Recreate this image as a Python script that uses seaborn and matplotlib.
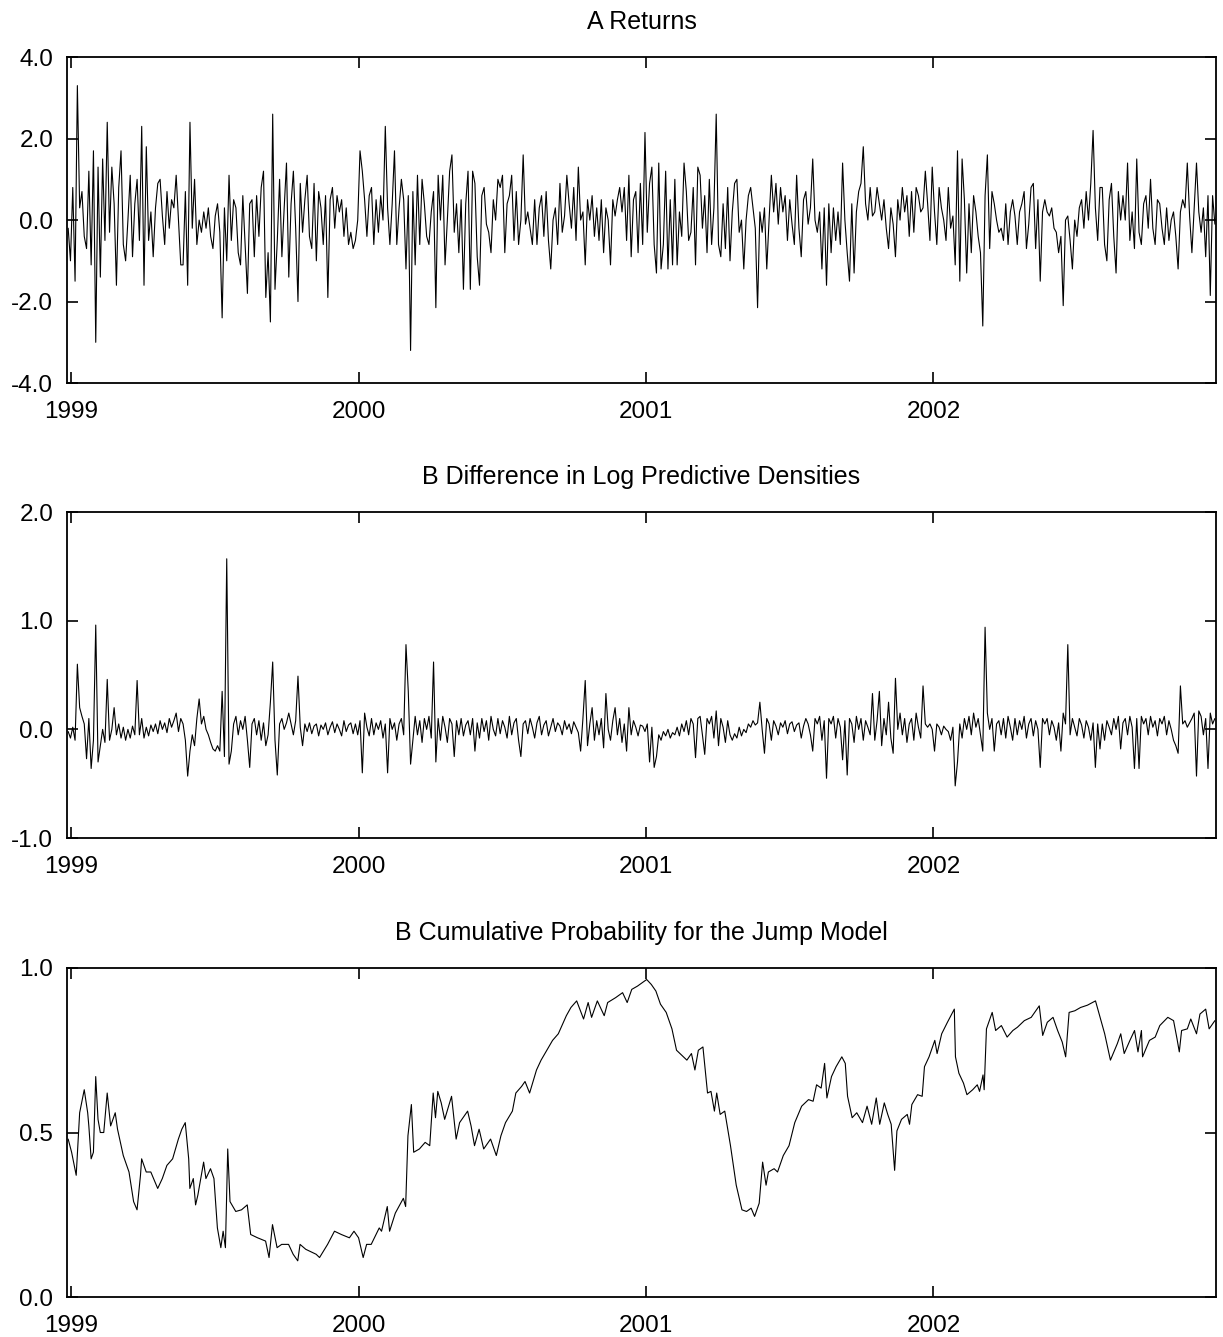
import numpy as np
import matplotlib
matplotlib.use("Agg")
import matplotlib.pyplot as plt
from matplotlib.ticker import FormatStrFormatter
import seaborn as sns

# Panel A: daily returns (roughly every 2nd trading day)
a_returns = [
    -0.2, -1.0, 0.8, -1.5, 3.3, 0.3, 0.7, -0.4, -0.7, 1.2, -1.1, 1.7, -3.0, 1.3, -1.4, 1.5, -0.5, 2.4, -0.3, 1.3, 0.4, -1.6, 0.8, 1.7, -0.6,
    -1.0, 0.0, 1.1, -0.9, 0.4, 1.0, -0.5, 2.3, -1.6, 1.8, -0.5, 0.2, -0.9, 0.3, 0.9, 1.0, 0.1, -0.6, 0.7, -0.2, 0.5, 0.3, 1.1, 0.0, -1.1,
    -1.1, 0.7, -1.6, 2.4, -0.2, 1.0, -0.6, 0.0, -0.3, 0.2, -0.2, 0.3, -0.4, -0.7, 0.1, 0.4, -0.3, -2.4, 0.3, -1.0, 1.1, -0.5, 0.5, 0.3, -0.8,
    -1.1, 0.6, -0.6, -1.8, 0.4, 0.5, -0.9, 0.6, -0.4, 0.8, 1.2, -1.9, -0.8, -2.5, 2.6, -1.7, -0.5, 1.0, -0.9, 0.3, 1.4, -1.4, 0.4, 1.2, -0.2,
    -2.0, 0.9, -0.3, 0.5, 1.1, -0.4, -0.7, 0.9, -1.0, 0.7, 0.3, -0.6, 0.6, -1.9, 0.5, 0.8, -0.2, 0.6, 0.2, 0.5, -0.4, 0.3, -0.6, -0.3, -0.7,
    -0.5, 0.0, 1.7, 1.2, 0.5, -0.4, 0.6, 0.8, -0.6, 0.5, -0.3, 0.6, 0.0, 2.3, 0.3, -0.6, 0.4, 1.7, -0.6, 0.3, 1.0, 0.5, -1.2, 0.6, -3.2,
    0.7, -1.1, 1.1, -0.6, 1.0, 0.4, -0.4, -0.6, 0.2, 0.7, -2.15, 1.1, 0.0, 1.1, -1.1, 0.0, 1.2, 1.6, -0.3, 0.4, -0.8, 0.5, -1.7, 0.4, 1.2,
    -1.7, 1.2, 0.9, -0.9, -1.6, 0.6, 0.8, -0.1, -0.3, -0.8, 0.5, 0.0, 1.0, 0.8, 1.1, -0.8, 0.4, 0.6, 1.1, -0.5, 0.7, -0.6, 0.0, 1.6, -0.1,
    0.2, -0.2, -0.6, 0.5, -0.6, 0.3, 0.6, -0.4, 0.7, -0.5, -1.2, 0.0, 0.3, -0.6, 0.9, -0.3, 0.1, 1.1, 0.4, -0.2, 0.8, -0.5, 1.3, 0.0, 0.2,
    -1.1, 0.5, 0.0, 0.6, -0.4, 0.3, -0.5, 0.5, -0.8, 0.3, 0.0, -1.1, 0.5, 0.1, 0.5, 0.8, 0.2, 0.8, -0.5, 1.1, -0.9, 0.5, 0.7, -0.8, 0.9,
    -0.6, 2.15, -0.3, 0.9, 1.3, -0.6, -1.3, 1.4, -1.2, -0.6, 1.2, -1.2, 0.5, -1.1, 1.0, -1.1, 0.2, -0.4, 1.4, 0.7, -0.5, -0.3, 0.8, -1.1, 1.3,
    1.1, -0.2, 0.6, -0.8, 1.0, -0.6, 0.3, 2.6, -0.6, -0.9, 0.4, -0.7, 0.8, -1.0, 0.2, 0.9, 1.0, -0.3, 0.0, -1.2, 0.0, 0.6, 0.8, 0.3, -0.2,
    -2.15, 0.2, -0.3, 0.3, -1.2, 0.0, 1.1, 0.2, 0.9, -0.1, 0.8, 0.2, 0.6, -0.5, 0.5, -0.1, -0.6, 1.1, -0.2, -0.9, 0.5, 0.7, -0.1, 0.3, 1.5,
    0.0, -0.3, 0.2, -1.2, 0.3, -1.6, 0.4, -0.8, 0.3, -0.5, 0.2, -0.6, 1.4, 0.0, -0.8, -1.5, 0.4, -1.3, 0.2, 0.7, 0.9, 1.8, 0.4, 0.0, 0.8,
    0.1, 0.2, 0.8, 0.4, 0.0, 0.5, -0.2, -0.7, 0.3, -0.1, -0.9, 0.5, 0.0, 0.8, 0.2, 0.6, -0.4, 0.7, -0.3, 0.8, 0.6, 0.2, 0.3, 1.2, 0.4,
    -0.5, 1.3, 0.2, -0.6, 0.8, 0.3, 0.0, -0.5, 0.8, -0.2, 0.1, -1.1, 1.7, -1.5, 1.5, 0.5, -1.3, 0.4, -0.8, 0.6, 0.2, -0.4, -0.8, -2.6, 0.6,
    1.6, -0.7, 0.7, 0.4, 0.0, -0.3, -0.2, -0.5, 0.4, -0.6, 0.2, 0.5, 0.1, -0.6, 0.2, 0.4, 0.7, -0.7, -0.1, 0.8, 0.9, -0.7, 0.5, -1.5, 0.2,
    0.5, 0.2, 0.1, 0.3, -0.2, -0.3, -0.8, -0.4, -2.1, 0.0, 0.1, -0.5, -1.2, 0.0, -0.4, 0.3, 0.5, -0.2, 0.7, 0.0, 0.9, 2.2, 0.3, -0.5, 0.8,
    0.8, -0.6, -1.0, 0.5, 0.9, -0.4, -1.3, 0.7, 0.0, 0.6, 0.0, 1.4, -0.5, 0.2, -0.7, 1.5, -0.3, -0.6, 0.4, 0.6, -0.2, 1.0, -0.2, -0.6, 0.5,
    0.4, -0.2, -0.6, 0.3, -0.5, 0.0, 0.2, -0.4, -1.2, 0.2, 0.5, 0.3, 1.4, 0.1, -0.8, 0.3, 1.4, 0.2, -0.3, 0.3, -0.9, 0.6, -1.85, 0.6, -0.1,
]

# Panel B: difference in log predictive densities
b_logdens = [
    -0.02, -0.08, 0.02, -0.1, 0.6, 0.2, 0.12, 0.05, -0.27, 0.1, -0.36, -0.1, 0.96, -0.3, -0.15, 0.0, -0.12, 0.46, -0.1, 0.0, 0.2, -0.05, 0.05, -0.08, 0.02,
    -0.1, 0.0, -0.08, 0.03, -0.05, 0.45, -0.05, 0.1, -0.08, 0.02, -0.06, 0.04, -0.02, 0.05, -0.04, 0.08, 0.0, 0.06, -0.03, 0.1, 0.02, 0.08, 0.15, -0.02, 0.1,
    0.05, -0.1, -0.43, -0.2, -0.05, -0.15, 0.1, 0.28, 0.05, 0.12, 0.0, -0.05, -0.12, -0.18, -0.2, -0.15, -0.2, 0.35, -0.25, 1.57, -0.32, -0.2, 0.05, 0.12, -0.05,
    0.08, 0.0, 0.12, -0.1, -0.35, 0.05, 0.1, -0.05, 0.08, -0.1, 0.06, -0.15, -0.05, 0.25, 0.62, -0.1, -0.42, 0.05, 0.1, 0.0, 0.06, 0.15, 0.05, -0.05, 0.08,
    0.49, 0.02, -0.15, 0.05, -0.02, 0.06, -0.04, 0.03, 0.05, -0.06, 0.04, 0.0, 0.06, -0.05, 0.02, 0.07, -0.03, 0.05, 0.0, -0.06, 0.08, -0.02, 0.04, 0.06, -0.04,
    0.05, -0.05, 0.08, -0.4, 0.15, 0.02, -0.06, 0.1, -0.05, 0.06, 0.0, 0.08, -0.08, 0.05, -0.4, 0.1, 0.0, 0.06, -0.1, 0.05, 0.1, -0.05, 0.78, 0.35, -0.32,
    -0.1, 0.12, -0.05, 0.08, -0.12, 0.1, 0.0, 0.12, -0.08, 0.62, -0.3, 0.1, -0.1, 0.12, 0.02, -0.12, 0.1, 0.05, -0.25, 0.08, -0.05, 0.1, -0.06, 0.04, 0.08,
    -0.05, 0.1, -0.2, 0.06, -0.08, 0.1, -0.02, 0.08, -0.1, 0.12, 0.0, -0.06, 0.1, -0.04, 0.08, 0.02, -0.08, 0.12, -0.05, 0.06, 0.1, -0.1, -0.25, 0.05, 0.08,
    -0.04, 0.1, 0.02, -0.08, 0.06, 0.12, -0.05, 0.04, 0.08, -0.06, 0.02, 0.1, -0.02, 0.06, 0.03, -0.05, 0.08, 0.0, 0.05, -0.04, 0.07, 0.02, -0.03, -0.2, 0.1,
    0.45, -0.15, 0.05, 0.2, -0.1, 0.08, -0.05, 0.1, -0.17, 0.33, 0.0, -0.1, 0.08, 0.2, -0.05, 0.1, -0.12, 0.05, -0.2, 0.2, -0.05, 0.08, 0.02, -0.06, 0.04,
    0.03, -0.02, 0.05, -0.3, 0.02, -0.35, -0.25, -0.05, -0.1, -0.02, -0.06, 0.0, -0.08, -0.03, -0.05, 0.02, -0.06, 0.05, -0.02, 0.08, -0.05, 0.1, 0.05, -0.26, 0.1,
    0.12, -0.05, -0.23, 0.1, 0.05, 0.12, -0.08, 0.17, -0.15, 0.1, 0.02, -0.12, 0.08, -0.05, -0.1, -0.04, -0.08, 0.02, -0.06, 0.0, -0.03, 0.05, 0.02, 0.08, 0.04,
    0.06, 0.25, 0.0, -0.22, 0.1, 0.05, -0.1, 0.08, 0.03, -0.05, 0.06, 0.02, 0.08, -0.04, 0.05, 0.07, -0.02, 0.04, 0.06, -0.08, 0.03, 0.1, 0.05, -0.05, -0.2,
    0.1, 0.05, 0.12, -0.1, 0.08, -0.45, 0.1, 0.05, 0.12, -0.08, 0.1, 0.02, -0.28, 0.08, -0.42, 0.1, 0.05, -0.12, 0.12, 0.0, 0.1, -0.1, 0.08, 0.02, -0.05,
    0.33, -0.1, 0.08, 0.35, -0.15, 0.1, -0.05, 0.25, -0.08, -0.22, 0.47, 0.0, 0.15, -0.05, 0.1, -0.12, 0.05, 0.1, -0.1, 0.15, 0.02, -0.08, 0.4, 0.05, 0.02,
    0.05, 0.0, -0.2, 0.05, 0.02, -0.05, 0.03, 0.0, -0.02, -0.1, 0.02, -0.52, -0.3, 0.05, -0.08, 0.1, 0.0, 0.12, -0.05, 0.15, 0.02, 0.1, -0.05, -0.2, 0.94,
    0.15, 0.0, 0.1, -0.2, 0.05, 0.08, -0.05, 0.1, -0.08, 0.12, 0.02, -0.1, 0.1, -0.05, 0.08, 0.0, 0.12, -0.08, 0.05, 0.1, -0.06, 0.08, 0.0, -0.35, 0.1,
    0.05, 0.1, -0.05, 0.08, 0.02, -0.1, 0.06, -0.2, 0.15, 0.05, 0.78, -0.05, 0.1, 0.02, -0.06, 0.1, 0.04, -0.08, 0.08, 0.02, -0.1, 0.06, -0.35, 0.05, -0.18,
    0.05, -0.1, 0.08, 0.02, -0.05, 0.1, 0.0, 0.12, -0.18, 0.06, 0.1, -0.05, 0.12, 0.02, -0.36, 0.1, -0.36, 0.12, 0.05, 0.1, -0.05, 0.12, 0.02, 0.08, -0.06,
    0.1, 0.05, 0.12, -0.05, 0.08, 0.0, -0.1, -0.15, -0.22, 0.4, 0.05, 0.08, 0.02, 0.06, 0.1, 0.15, -0.43, 0.17, 0.12, -0.05, 0.1, -0.36, 0.15, 0.05, 0.1,
]

# Panel C: cumulative probability, trading-day number (0..999) and value
c_day = [
    0, 3, 7, 9, 10, 14, 17, 18, 20, 22, 24, 26, 28, 31, 34, 37, 41, 43, 48, 53, 57, 60, 63, 64, 68, 72, 78, 82, 86, 91,
    96, 99, 102, 105, 106, 109, 111, 113, 118, 120, 124, 127, 130, 133, 135, 137, 139, 141, 146, 151, 156, 159, 165, 172, 175, 178, 182, 186, 192, 196,
    200, 202, 207, 216, 219, 226, 232, 238, 245, 249, 253, 257, 260, 264, 271, 273, 278, 280, 285, 292, 294, 296, 299, 301, 306, 311, 315, 318, 320, 322,
    325, 328, 334, 338, 341, 348, 351, 354, 358, 362, 368, 373, 377, 381, 387, 390, 395, 398, 402, 408, 412, 417, 422, 427, 434, 438, 443, 449, 453, 456,
    461, 467, 470, 477, 483, 487, 491, 496, 504, 508, 512, 516, 521, 526, 530, 536, 539, 543, 546, 549, 553, 557, 560, 563, 565, 568, 572, 577, 582, 587,
    591, 595, 598, 602, 605, 608, 610, 615, 618, 623, 628, 633, 639, 645, 649, 652, 656, 659, 661, 665, 669, 674, 677, 679, 683, 687, 692, 696, 700, 704,
    707, 711, 714, 717, 720, 722, 726, 731, 733, 735, 740, 744, 746, 750, 755, 757, 761, 766, 772, 773, 776, 780, 783, 788, 792, 794, 797, 798, 800, 805,
    808, 813, 818, 823, 827, 833, 839, 846, 849, 853, 858, 862, 866, 869, 872, 877, 882, 888, 895, 899, 903, 908, 914, 917, 920, 925, 929, 932, 935, 936,
    942, 947, 951, 958, 963, 966, 968, 970, 975, 978, 983, 986, 991, 994, 997, 999,
]
c_prob = [
    0.48, 0.44, 0.37, 0.50, 0.56, 0.63, 0.56, 0.52, 0.42, 0.44, 0.67, 0.54, 0.50, 0.50, 0.62, 0.52, 0.56, 0.51, 0.43, 0.38, 0.29, 0.265, 0.37, 0.42, 0.38, 0.38, 0.33, 0.36, 0.40, 0.42,
    0.48, 0.51, 0.53, 0.42, 0.33, 0.36, 0.28, 0.31, 0.41, 0.36, 0.39, 0.36, 0.21, 0.15, 0.20, 0.15, 0.45, 0.29, 0.26, 0.265, 0.28, 0.19, 0.18, 0.17, 0.12, 0.22, 0.15, 0.16, 0.16, 0.13,
    0.11, 0.16, 0.145, 0.13, 0.12, 0.16, 0.20, 0.19, 0.18, 0.20, 0.18, 0.12, 0.16, 0.16, 0.21, 0.20, 0.275, 0.20, 0.255, 0.30, 0.275, 0.49, 0.585, 0.44, 0.45, 0.47, 0.46, 0.62, 0.545, 0.625,
    0.59, 0.54, 0.61, 0.48, 0.53, 0.565, 0.52, 0.46, 0.51, 0.45, 0.48, 0.43, 0.49, 0.53, 0.565, 0.62, 0.64, 0.655, 0.62, 0.69, 0.72, 0.75, 0.78, 0.80, 0.855, 0.88, 0.90, 0.845, 0.895, 0.85,
    0.90, 0.855, 0.895, 0.91, 0.925, 0.895, 0.935, 0.945, 0.965, 0.95, 0.93, 0.89, 0.865, 0.815, 0.75, 0.73, 0.72, 0.74, 0.69, 0.75, 0.76, 0.62, 0.625, 0.565, 0.62, 0.555, 0.565, 0.46, 0.34, 0.265,
    0.26, 0.27, 0.245, 0.285, 0.41, 0.34, 0.38, 0.39, 0.38, 0.43, 0.46, 0.53, 0.58, 0.60, 0.595, 0.645, 0.635, 0.71, 0.605, 0.67, 0.70, 0.73, 0.71, 0.61, 0.545, 0.56, 0.53, 0.58, 0.525, 0.605,
    0.525, 0.59, 0.555, 0.525, 0.385, 0.505, 0.54, 0.555, 0.525, 0.585, 0.615, 0.61, 0.70, 0.73, 0.78, 0.74, 0.80, 0.835, 0.875, 0.73, 0.68, 0.65, 0.615, 0.63, 0.645, 0.625, 0.675, 0.63, 0.815, 0.865,
    0.81, 0.825, 0.79, 0.81, 0.82, 0.84, 0.85, 0.885, 0.795, 0.835, 0.85, 0.81, 0.775, 0.73, 0.865, 0.87, 0.88, 0.887, 0.90, 0.85, 0.80, 0.72, 0.77, 0.80, 0.74, 0.78, 0.81, 0.745, 0.81, 0.73,
    0.78, 0.79, 0.825, 0.85, 0.84, 0.785, 0.745, 0.81, 0.815, 0.845, 0.80, 0.86, 0.875, 0.815, 0.83, 0.84,
]

year_ticks = [1999, 2000, 2001, 2002]
titles = ["A Returns",
          "B Difference in Log Predictive Densities",
          "B Cumulative Probability for the Jump Model"]
y_ticks = [[-4, -2, 0, 2, 4], [-1, 0, 1, 2], [0, 0.5, 1.0]]

# sample spans Jan 1999 .. end of 2002, 1000 trading days
first_obs, last_obs = 1998.99, 2002.979
n_days = 1000
a_x = np.linspace(first_obs, last_obs, len(a_returns))
b_x = np.linspace(first_obs, last_obs, len(b_logdens))
c_x = first_obs + np.array(c_day) * (last_obs - first_obs) / (n_days - 1)

sns.set_style("ticks")
plt.rcParams['font.family'] = ['Liberation Sans', 'DejaVu Sans']

fig = plt.figure(figsize=(12.23, 13.37), dpi=100)
boxes = [[0.0548, 0.7135, 0.9395, 0.2438],
         [0.0548, 0.3732, 0.9395, 0.2438],
         [0.0548, 0.0299, 0.9395, 0.2461]]
series = [(a_x, a_returns), (b_x, b_logdens), (c_x, c_prob)]

for box, (xs, ys), title, yt in zip(boxes, series, titles, y_ticks):
    ax = fig.add_axes(box)
    sns.lineplot(x=xs, y=ys, ax=ax, color="black", linewidth=0.8,
                 estimator=None, sort=False)
    ax.set_xlim(1998.986, 2002.983)
    ax.set_ylim(yt[0], yt[-1])
    ax.set_yticks(yt)
    ax.yaxis.set_major_formatter(FormatStrFormatter('%.1f'))
    ax.set_xticks(year_ticks)
    ax.set_xticklabels([str(y) for y in year_ticks])
    ax.tick_params(direction='in', top=True, right=True, length=8, width=1.2,
                   labelsize=17.5, colors='black')
    ax.tick_params(axis='x', pad=13)
    ax.tick_params(axis='y', pad=10)
    for sp in ax.spines.values():
        sp.set_linewidth(1.3)
        sp.set_color('black')
    ax.set_title(title, fontsize=18, pad=20, color='black')

fig.savefig("out.png", dpi=100)
